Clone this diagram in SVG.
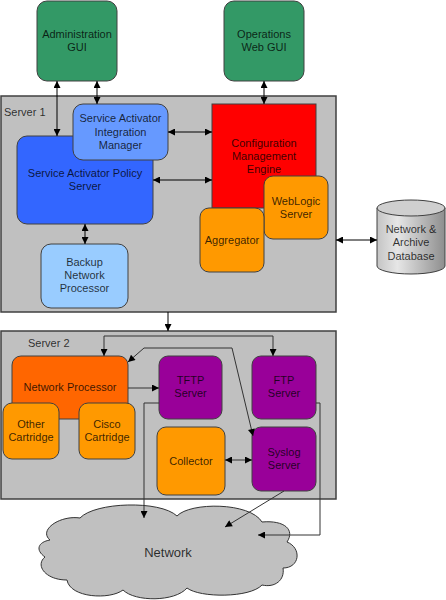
<svg xmlns="http://www.w3.org/2000/svg" width="446" height="600" viewBox="0 0 446 600">
<style>
text{font-family:"Liberation Sans",Arial,sans-serif;font-size:11px;fill:#000;fill-opacity:0.78;text-anchor:middle}
.lbl{text-anchor:start}
.srv{fill:#c0c0c0;stroke:#404040;stroke-width:1.5}
.n{stroke:#404040;stroke-width:1}
.green{fill:#339966}
.blue{fill:#3366ff}
.lblue{fill:#6699ff}
.pblue{fill:#99ccff}
.red{fill:#ff0000}
.orange{fill:#ff9900}
.dorange{fill:#ff6600}
.purple{fill:#990099}
.c{fill:none;stroke:#000;stroke-width:1}
.c2{fill:none;stroke:#333;stroke-width:1}
.bi{marker-start:url(#ah);marker-end:url(#ah)}
.e{marker-end:url(#ah)}
</style>
<defs>
<marker id="ah" viewBox="0 0 10 10" refX="10" refY="5" markerWidth="8" markerHeight="7" markerUnits="userSpaceOnUse" orient="auto-start-reverse">
<path d="M0,0 L10,5 L0,10 z" fill="#000"/>
</marker>
<linearGradient id="cyl" x1="0" y1="0" x2="1" y2="0">
<stop offset="0" stop-color="#c4c4c4"/>
<stop offset="0.3" stop-color="#e6e6e6"/>
<stop offset="1" stop-color="#8e8e8e"/>
</linearGradient>
</defs>

<rect id="server1" class="srv" x="1" y="96" width="335" height="216"/>
<text class="lbl" x="4" y="116">Server 1</text>
<rect id="server2" class="srv" x="1" y="331" width="335" height="168"/>
<text class="lbl" x="28" y="347">Server 2</text>

<g id="admin-gui"><rect class="n green" x="37" y="1" width="80" height="80" rx="10"/><text x="77" y="37.5">Administration</text><text x="77" y="51">GUI</text></g>
<g id="ops-gui"><rect class="n green" x="224" y="1" width="80" height="80" rx="10"/><text x="264" y="37.5">Operations</text><text x="264" y="51">Web GUI</text></g>

<g id="saps"><rect class="n blue" x="17" y="136" width="136" height="88" rx="10"/><text x="85" y="177">Service Activator Policy</text><text x="85" y="190">Server</text></g>
<g id="saim"><rect class="n lblue" x="73" y="104" width="95" height="56" rx="10"/><text x="120.5" y="122">Service Activator</text><text x="120.5" y="135.5">Integration</text><text x="120.5" y="149">Manager</text></g>
<g id="backup"><rect class="n pblue" x="41" y="244" width="87" height="64" rx="10"/><text x="84.5" y="265.5">Backup</text><text x="84.5" y="279">Network</text><text x="84.5" y="292">Processor</text></g>
<g id="cme"><rect class="n red" x="212" y="104" width="104" height="104"/><text x="264" y="147">Configuration</text><text x="264" y="160">Management</text><text x="264" y="173">Engine</text></g>
<g id="weblogic"><rect class="n orange" x="264" y="176" width="64" height="63" rx="9"/><text x="296" y="205">WebLogic</text><text x="296" y="218">Server</text></g>
<g id="aggregator"><rect class="n orange" x="200" y="208" width="64" height="64" rx="9"/><text x="232" y="244">Aggregator</text></g>

<g id="database">
<path d="M377,208 L377,266 A34,8 0 0 0 445,266 L445,208 Z" fill="url(#cyl)" stroke="#404040"/>
<ellipse cx="411" cy="208" rx="34" ry="8" fill="#cfcfcf" stroke="#404040"/>
<text x="411" y="233">Network &amp;</text><text x="411" y="246">Archive</text><text x="411" y="259.5">Database</text>
</g>

<g id="network-processor"><rect class="n dorange" x="12" y="356" width="116" height="63" rx="9"/><text x="70" y="391">Network Processor</text></g>
<g id="other-cartridge"><rect class="n orange" x="3" y="403" width="56" height="56" rx="9"/><text x="31" y="428">Other</text><text x="31" y="441">Cartridge</text></g>
<g id="cisco-cartridge"><rect class="n orange" x="79" y="403" width="56" height="56" rx="9"/><text x="107" y="428">Cisco</text><text x="107" y="441">Cartridge</text></g>
<g id="tftp"><rect class="n purple" x="159" y="356" width="63" height="63" rx="9"/><text x="190.5" y="384">TFTP</text><text x="190.5" y="397">Server</text></g>
<g id="ftp"><rect class="n purple" x="252" y="356" width="64" height="63" rx="9"/><text x="284" y="384">FTP</text><text x="284" y="397">Server</text></g>
<g id="collector"><rect class="n orange" x="157" y="427" width="68" height="68" rx="9"/><text x="191" y="465">Collector</text></g>
<g id="syslog"><rect class="n purple" x="252" y="427" width="64" height="64" rx="9"/><text x="284" y="456">Syslog</text><text x="284" y="469">Server</text></g>

<g id="network-cloud">
<path d="M50,540 C38,530 60,515 80,518 C95,502 160,500 177,516 C190,502 250,502 262,522 C285,520 295,530 287,542 C302,548 300,568 283,568 C285,580 275,588 262,585 C250,598 200,598 187,588 C175,602 135,602 123,590 C110,600 70,598 67,580 C45,580 35,565 45,557 C35,550 38,542 50,540 Z" fill="#c0c0c0" stroke="#333" stroke-width="1"/>
<text x="168" y="557" style="font-size:13px">Network</text>
</g>

<g id="connectors">
<line class="c bi" x1="57" y1="81" x2="57" y2="136"/>
<line class="c bi" x1="97" y1="81" x2="97" y2="104"/>
<line class="c bi" x1="264" y1="81" x2="264" y2="104"/>
<line class="c bi" x1="168" y1="132" x2="212" y2="132"/>
<line class="c bi" x1="153" y1="180" x2="212" y2="180"/>
<line class="c bi" x1="85" y1="224" x2="85" y2="244"/>
<line class="c bi" x1="336" y1="240" x2="377" y2="240"/>
<line class="c e" x1="168" y1="312" x2="168" y2="331"/>
<polyline class="c2 bi" points="104,356 104,336 273,336 273,356"/>
<polyline class="c2 bi" points="128,362 144,348 232,348 253,436"/>
<line class="c2 e" x1="128" y1="388" x2="159" y2="388"/>
<polyline class="c2 e" points="159,403 144,403 144,518"/>
<line class="c2 bi" x1="225" y1="460" x2="252" y2="460"/>
<line class="c2 e" x1="284" y1="491" x2="225" y2="527"/>
<polyline class="c2 e" points="316,403 320,403 320,535 258,535"/>
</g>
</svg>
